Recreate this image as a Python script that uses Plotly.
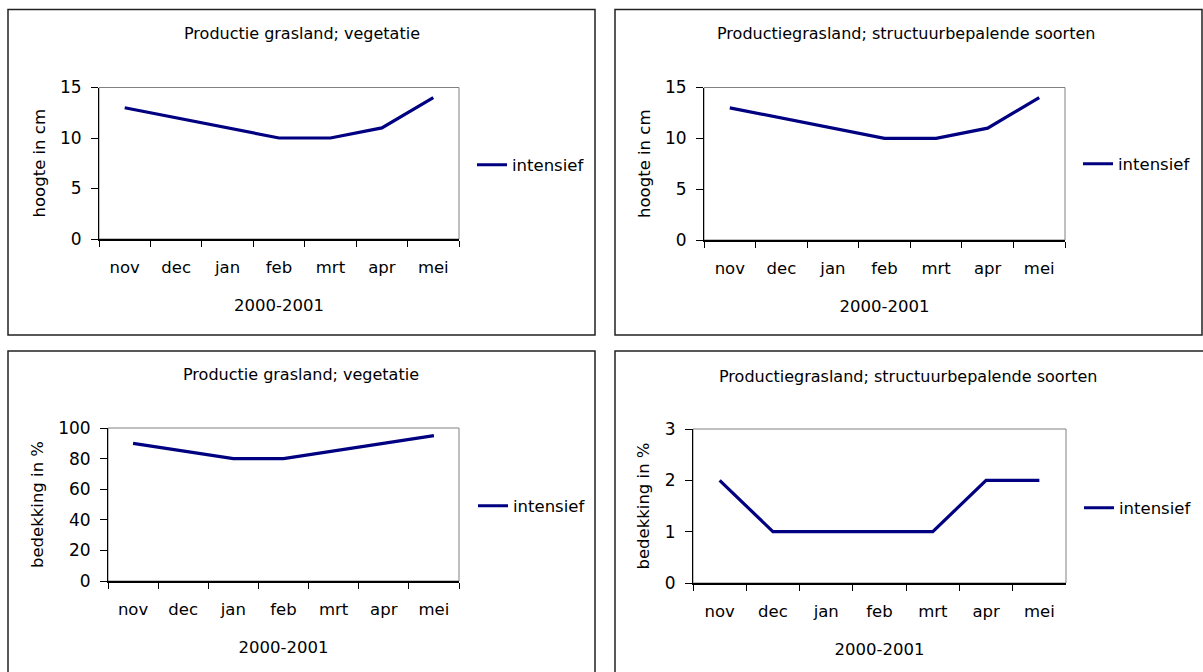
import plotly.graph_objects as go

# ---------------- data ----------------
months = ["nov", "dec", "jan", "feb", "mrt", "apr", "mei"]
hoogte_vegetatie = [13, 12, 11, 10, 10, 11, 14]
hoogte_structuur = [13, 12, 11, 10, 10, 11, 14]
bedekking_vegetatie = [90, 85, 80, 80, 85, 90, 95]
bedekking_structuur = [2, 1, 1, 1, 1, 2, 2]

panel_titles = [
    "Productie grasland; vegetatie",
    "Productiegrasland; structuurbepalende soorten",
    "Productie grasland; vegetatie",
    "Productiegrasland; structuurbepalende soorten",
]
y_titles = ["hoogte in cm", "hoogte in cm", "bedekking in %", "bedekking in %"]
x_title = "2000-2001"
series_name = "intensief"
y_ranges = [[0, 15], [0, 15], [0, 100], [0, 3]]
y_dticks = [5, 5, 20, 1]
series = [hoogte_vegetatie, hoogte_structuur, bedekking_vegetatie, bedekking_structuur]

# ---------------- layout geometry (pixels) ----------------
W, H = 1203, 672
FONT = "DejaVu Sans"
NAVY = "#000080"

plots = [  # x0, x1, ytop, ybottom
    (99, 459, 87.5, 239),
    (704, 1065, 87.5, 240),
    (108, 459, 428, 581),
    (693, 1066, 429, 583),
]
boxes = [
    (8, 595, 9.5, 335),
    (615, 1202, 9.5, 335),
    (8, 595, 351, 690),
    (615, 1220, 351, 690),
]
title_pos = [(302, 33), (906, 33), (301, 374), (908, 376)]
legend_pos = [(472, 165), (1078, 164), (473, 506), (1079, 508)]


def px(x):
    return x / W


def py(y):
    return 1 - y / H


fig = go.Figure()
layout = dict(
    width=W, height=H,
    margin=dict(l=0, r=0, t=0, b=0, autoexpand=False),
    paper_bgcolor="white", plot_bgcolor="white",
    font=dict(family=FONT, size=16.5, color="black"),
    shapes=[], annotations=[],
)

for i in range(4):
    n = "" if i == 0 else str(i + 1)
    xa, ya = "x" + n, "y" + n
    leg = "legend" + n
    fig.add_trace(go.Scatter(
        x=months, y=series[i], mode="lines", name=series_name,
        line=dict(color=NAVY, width=3.2), xaxis=xa, yaxis=ya,
        legend=leg, showlegend=True, hoverinfo="skip",
    ))
    x0, x1, yt, yb = plots[i]
    layout["xaxis" + n] = dict(
        domain=[px(x0), px(x1)], anchor=ya, type="category", automargin=False,
        range=[-0.5, 6.5], showline=True, linecolor="black", linewidth=2,
        ticks="outside", tickson="boundaries", ticklen=6, tickcolor="black",
        tickwidth=1.2, showgrid=False, zeroline=False, ticklabelstandoff=12,
        title=dict(text=x_title, standoff=24, font=dict(size=16.5)),
        tickfont=dict(size=16.5),
    )
    layout["yaxis" + n] = dict(
        domain=[py(yb), py(yt)], anchor=xa, range=y_ranges[i], automargin=False,
        dtick=y_dticks[i], showline=True, linecolor="black", linewidth=1,
        ticks="outside", ticklen=7, tickcolor="black", tickwidth=1,
        showgrid=False, zeroline=False, ticklabelstandoff=6,
        title=dict(text=y_titles[i], standoff=10, font=dict(size=16.5)),
        tickfont=dict(size=17),
    )
    lx, ly = legend_pos[i]
    layout[leg] = dict(
        x=px(lx), y=py(ly), xanchor="left", yanchor="middle",
        bgcolor="rgba(0,0,0,0)", borderwidth=0, font=dict(size=16.5),
    )
    # plot-area frame (grey, top and right)
    layout["shapes"].append(dict(
        type="rect", xref=xa + " domain", yref=ya + " domain",
        x0=0, x1=1, y0=0, y1=1, line=dict(color="#808080", width=1),
        layer="below",
    ))
    # chart border box
    bx0, bx1, byt, byb = boxes[i]
    layout["shapes"].append(dict(
        type="rect", xref="paper", yref="paper",
        x0=px(bx0), x1=px(bx1), y0=py(byb), y1=py(byt),
        line=dict(color="#222222", width=1.5),
    ))
    tx, ty = title_pos[i]
    layout["annotations"].append(dict(
        text=panel_titles[i], xref="paper", yref="paper",
        x=px(tx), y=py(ty), xanchor="center", yanchor="middle",
        showarrow=False, font=dict(size=16),
    ))

fig.update_layout(**layout)
fig.write_html("out.html")
